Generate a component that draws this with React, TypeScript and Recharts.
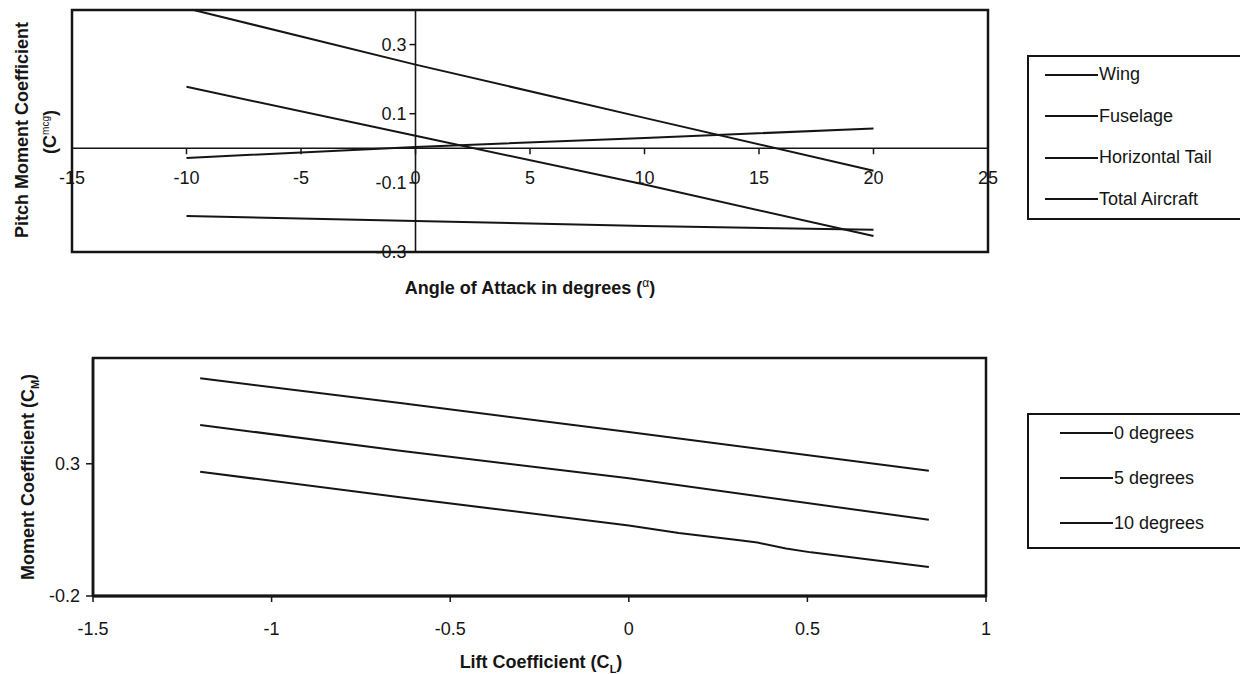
import React from 'react';
import {
  LineChart,
  Line,
  XAxis,
  YAxis,
  ReferenceLine,
  ReferenceArea,
  ReferenceDot,
  Legend,
} from 'recharts';

const FONT = '"Liberation Sans", Arial, Helvetica, sans-serif';
const INK = '#151515';

// ---------- Top chart: pitch moment coefficient vs angle of attack ----------
const alphaDeg = [-10, 0, 10, 20];
const wingCm = [-0.028, 0.004, 0.03, 0.057];
const fuselageCm = [-0.196, -0.21, -0.225, -0.236];
const tailCm = [0.405, 0.242, 0.088, -0.065];
const totalCm = [0.178, 0.036, -0.105, -0.254];
const topSeriesNames = ['Wing', 'Fuselage', 'Horizontal Tail', 'Total Aircraft'];
const alphaTicks = [-15, -10, -5, 0, 5, 10, 15, 20, 25];
const cmTopTicks = [0.3, 0.1, -0.1, -0.3];

// ---------- Bottom chart: moment coefficient vs lift coefficient ----------
const cl0 = [-1.2, -0.64, 0, 0.84];
const cm0 = [0.623, 0.53, 0.42, 0.274];
const cl5 = [-1.2, -0.64, 0, 0.84];
const cm5 = [0.447, 0.349, 0.245, 0.088];
const cl10 = [-1.2, -0.64, 0, 0.14, 0.31, 0.36, 0.44, 0.51, 0.84];
const cm10 = [0.27, 0.173, 0.067, 0.038, 0.011, 0.002, -0.02, -0.035, -0.09];
const bottomSeriesNames = ['0 degrees', '5 degrees', '10 degrees'];
const clTicks = [-1.5, -1, -0.5, 0, 0.5, 1];
const cmBottomTicks = [-0.2, 0.3];

const toPts = (xs: number[], ys: number[]) => xs.map((x, i) => ({ x, y: ys[i] }));

const topSeries = [wingCm, fuselageCm, tailCm, totalCm].map((vals, i) => ({
  name: topSeriesNames[i],
  data: toPts(alphaDeg, vals),
}));
const bottomSeries = [
  { name: bottomSeriesNames[0], data: toPts(cl0, cm0) },
  { name: bottomSeriesNames[1], data: toPts(cl5, cm5) },
  { name: bottomSeriesNames[2], data: toPts(cl10, cm10) },
];

const XTick = (p: any) => (
  <g>
    <line x1={p.cx} x2={p.cx} y1={p.cy} y2={p.cy + 6} stroke={INK} strokeWidth={1.5} />
    <text x={p.cx} y={p.cy + 36} textAnchor="middle" fontSize={18} fontFamily={FONT} fill={INK}>
      {p.label}
    </text>
  </g>
);

const YTick = (p: any) => (
  <g>
    <line x1={p.cx - 6} x2={p.cx} y1={p.cy} y2={p.cy} stroke={INK} strokeWidth={1.5} />
    <text x={p.cx - 9} y={p.cy + 6} textAnchor="end" fontSize={18} fontFamily={FONT} fill={INK}>
      {p.label}
    </text>
  </g>
);

const makeLegend = (o: {
  order: string[];
  width: number;
  height: number;
  rowH: number;
  firstTop: number;
  lineLeft: number;
}) =>
  (props: any) => {
    const items = [...(props.payload || [])].sort(
      (a: any, b: any) => o.order.indexOf(a.value) - o.order.indexOf(b.value)
    );
    return (
      <div
        style={{
          width: o.width,
          height: o.height,
          border: `2px solid ${INK}`,
          boxSizing: 'border-box',
          background: '#fff',
          fontFamily: FONT,
          fontSize: 18,
          color: INK,
          overflow: 'hidden',
        }}
      >
        {items.map((it: any, i: number) => (
          <div
            key={i}
            style={{
              height: o.rowH,
              display: 'flex',
              alignItems: 'center',
              marginTop: i === 0 ? o.firstTop : 0,
            }}
          >
            <div style={{ width: 53, marginLeft: o.lineLeft, borderTop: `2px solid ${INK}` }} />
            <span style={{ marginLeft: 1, whiteSpace: 'nowrap' }}>{it.value}</span>
          </div>
        ))}
      </div>
    );
  };

const TopLegend = makeLegend({
  order: topSeriesNames,
  width: 220,
  height: 165,
  rowH: 41.5,
  firstTop: -3,
  lineLeft: 16,
});
const BottomLegend = makeLegend({
  order: bottomSeriesNames,
  width: 220,
  height: 136,
  rowH: 45,
  firstTop: -4.5,
  lineLeft: 31,
});

const VTitle = ({ cx, cy, children, size = 18 }: any) => (
  <div
    style={{
      position: 'absolute',
      left: cx - 200,
      top: cy - 12,
      width: 400,
      height: 24,
      lineHeight: '24px',
      textAlign: 'center',
      transform: 'rotate(-90deg)',
      fontWeight: 700,
      fontSize: size,
      fontFamily: FONT,
      color: INK,
      whiteSpace: 'nowrap',
    }}
  >
    {children}
  </div>
);

const HTitle = ({ cx, cy, children }: any) => (
  <div
    style={{
      position: 'absolute',
      left: cx - 250,
      top: cy - 12,
      width: 500,
      height: 24,
      lineHeight: '24px',
      textAlign: 'center',
      fontWeight: 700,
      fontSize: 18,
      fontFamily: FONT,
      color: INK,
      whiteSpace: 'nowrap',
    }}
  >
    {children}
  </div>
);

export default function App() {
  return (
    <div
      style={{
        position: 'absolute',
        left: 0,
        top: 0,
        width: 1240,
        height: 674,
        overflow: 'hidden',
        background: '#fff',
        fontFamily: FONT,
      }}
    >
      {/* Top chart */}
      <div style={{ position: 'absolute', left: 0, top: 0 }}>
        <LineChart width={1240} height={300} margin={{ top: 10, right: 252, bottom: 48, left: 72 }}>
          <XAxis type="number" dataKey="x" domain={[-15, 25]} hide allowDataOverflow />
          <YAxis type="number" domain={[-0.3, 0.4]} hide allowDataOverflow />
          <ReferenceArea
            x1={-15}
            x2={25}
            y1={-0.3}
            y2={0.4}
            fill="none"
            fillOpacity={0}
            stroke={INK}
            strokeWidth={2.5}
            ifOverflow="visible"
          />
          <ReferenceLine y={0} stroke={INK} strokeWidth={1.6} />
          <ReferenceLine x={0} stroke={INK} strokeWidth={1.6} />
          {alphaTicks.map((v) => (
            <ReferenceDot
              key={'xt' + v}
              x={v}
              y={0}
              r={0}
              ifOverflow="visible"
              shape={(p: any) => <XTick cx={p.cx} cy={p.cy} label={String(v)} />}
            />
          ))}
          {cmTopTicks.map((v) => (
            <ReferenceDot
              key={'yt' + v}
              x={0}
              y={v}
              r={0}
              ifOverflow="visible"
              shape={(p: any) => <YTick cx={p.cx} cy={p.cy} label={String(v)} />}
            />
          ))}
          {topSeries.map((s) => (
            <Line
              key={s.name}
              name={s.name}
              data={s.data}
              dataKey="y"
              type="linear"
              stroke={INK}
              strokeWidth={2}
              dot={false}
              activeDot={false}
              isAnimationActive={false}
            />
          ))}
          <Legend
            layout="vertical"
            align="center"
            verticalAlign="middle"
            wrapperStyle={{ left: 1027, top: 55 }}
            content={TopLegend}
          />
        </LineChart>
      </div>

      <VTitle cx={22} cy={130}>Pitch Moment Coefficient</VTitle>
      <VTitle cx={46} cy={132}>
        (C<sup style={{ fontSize: 10, fontWeight: 400 }}>mcg</sup>)
      </VTitle>
      <HTitle cx={530} cy={283}>
        Angle of Attack in degrees (<sup style={{ fontSize: 12, fontWeight: 400 }}>α</sup>)
      </HTitle>

      {/* Bottom chart */}
      <div style={{ position: 'absolute', left: 0, top: 330 }}>
        <LineChart width={1240} height={344} margin={{ top: 28, right: 254, bottom: 48, left: 0 }}>
          <XAxis
            type="number"
            dataKey="x"
            domain={[-1.5, 1]}
            ticks={clTicks}
            interval={0}
            height={30}
            allowDataOverflow
            axisLine={{ stroke: INK, strokeWidth: 3 }}
            tickLine={{ stroke: INK, strokeWidth: 1.5 }}
            tickSize={6}
            tickMargin={20}
            tick={{ fill: INK, fontSize: 18, fontFamily: FONT }}
            tickFormatter={(v: number) => String(v)}
          />
          <YAxis
            type="number"
            domain={[-0.2, 0.7]}
            ticks={cmBottomTicks}
            interval={0}
            width={93}
            allowDataOverflow
            axisLine={{ stroke: INK, strokeWidth: 2.5 }}
            tickLine={{ stroke: INK, strokeWidth: 1.5 }}
            tickSize={7}
            tickMargin={6}
            tick={{ fill: INK, fontSize: 18, fontFamily: FONT }}
            tickFormatter={(v: number) => String(v)}
          />
          <ReferenceArea
            x1={-1.5}
            x2={1}
            y1={-0.2}
            y2={0.7}
            fill="none"
            fillOpacity={0}
            stroke={INK}
            strokeWidth={2.5}
            ifOverflow="visible"
          />
          {bottomSeries.map((s) => (
            <Line
              key={s.name}
              name={s.name}
              data={s.data}
              dataKey="y"
              type="linear"
              stroke={INK}
              strokeWidth={2}
              dot={false}
              activeDot={false}
              isAnimationActive={false}
            />
          ))}
          <Legend
            layout="vertical"
            align="center"
            verticalAlign="middle"
            wrapperStyle={{ left: 1027, top: 83 }}
            content={BottomLegend}
          />
        </LineChart>
      </div>

      <VTitle cx={28} cy={477}>
        Moment Coefficient (C<sub style={{ fontSize: 11 }}>M</sub>)
      </VTitle>
      <HTitle cx={541} cy={662}>
        Lift Coefficient (C<sub style={{ fontSize: 11 }}>L</sub>)
      </HTitle>
    </div>
  );
}
